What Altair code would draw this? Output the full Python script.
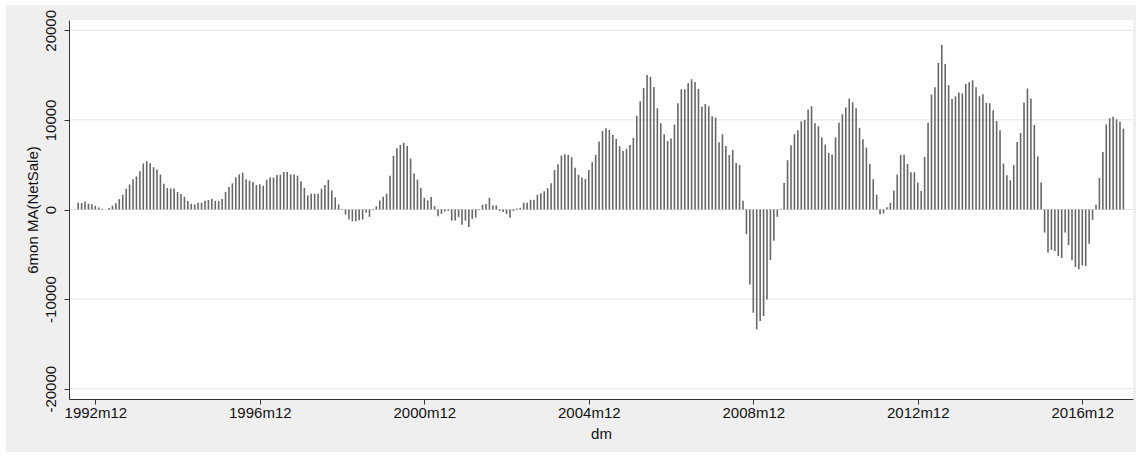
import altair as alt
import pandas as pd

# Monthly series, first month 1992m7, last 2017m12
start_month = "1992m7"
tick_months = [5, 53, 101, 149, 197, 245, 293]
tick_labels = ["1992m12", "1996m12", "2000m12", "2004m12", "2008m12", "2012m12", "2016m12"]
y_ticks = [-20000, -10000, 0, 10000, 20000]

netsale_ma = [
    750, 720, 880, 650, 580, 410, 220, 75, 10, 170,
    430, 700, 1160, 1650, 2320, 2800, 3370, 3700, 4270, 5130,
    5390, 5170, 4720, 4460, 3900, 2880, 2400, 2340, 2340, 1950,
    1720, 1420, 940, 640, 560, 750, 750, 970, 1050, 1200,
    970, 940, 1160, 1950, 2510, 2920, 3560, 3930, 4120, 3370,
    3220, 3070, 2730, 2810, 2660, 3300, 3560, 3560, 3860, 3880,
    4190, 4190, 3900, 3900, 3780, 3150, 2400, 1570, 1760, 1760,
    1760, 2320, 2730, 3300, 2130, 1350, 560, 50, -560, -1120,
    -1310, -1310, -1200, -1120, -370, -820, -75, 370, 1010, 1420,
    1760, 3780, 5990, 6850, 7200, 7450, 7100, 5700, 4010, 3330,
    2400, 1310, 1010, 1390, 375, -750, -490, -220, -150, -1240,
    -1240, -860, -1690, -1240, -1950, -1050, -900, -70, 520, 600,
    1310, 450, 450, -170, -280, -510, -890, -150, 110, 190,
    740, 740, 1080, 1080, 1640, 1820, 2040, 2380, 2940, 4420,
    5060, 6020, 6170, 6100, 5840, 4650, 3870, 3570, 3420, 4420,
    5280, 6100, 7580, 8770, 9070, 8880, 8330, 7880, 7060, 6540,
    6770, 7210, 7990, 10450, 12080, 13570, 15020, 14800, 13680, 11300,
    9630, 8400, 7660, 7920, 9480, 11860, 13420, 13420, 14090, 14540,
    14240, 13460, 11490, 11780, 11520, 10410, 10260, 7510, 8400, 7080,
    6080, 6650, 5200, 4980, 970, -2750, -8360, -11520, -13380, -12450,
    -11900, -10040, -5650, -3490, -820, 70, 2970, 5500, 7170, 8400,
    8850, 9850, 10000, 11150, 11520, 9630, 9290, 8030, 7250, 6320,
    6150, 8050, 9670, 10630, 11380, 12380, 11970, 11300, 9110, 7840,
    6910, 5090, 3380, 1640, -520, -450, 260, 740, 2120, 3900,
    6100, 6100, 5090, 4160, 4160, 3010, 2080, 5870, 9680, 12830,
    13640, 16360, 18360, 16250, 13870, 12340, 12640, 13050, 12940, 14010,
    14200, 14420, 13640, 12640, 12860, 11900, 11860, 11080, 9890, 8850,
    5130, 3830, 3260, 4950, 7520, 8540, 11940, 13510, 12390, 9440,
    5930, 3020, -2570, -4810, -4510, -4630, -5190, -5410, -2570, -3960,
    -5670, -6420, -6680, -6230, -6310, -3810, -1160, 520, 3510, 6420,
    9510, 10190, 10340, 10070, 9780, 9030,
]

df = pd.DataFrame({"m": list(range(len(netsale_ma))), "v": netsale_ma})

W, H = 1064, 379
FONT = "Liberation Sans"
x_scale = alt.Scale(domain=[-2.68, 307.8], nice=False, zero=False)
y_scale = alt.Scale(domain=[-21150, 21150], nice=False, zero=False)

y_axis = alt.Axis(
    values=y_ticks, labelExpr="'' + datum.value", title="6mon MA(NetSale)", grid=False,
    labelAngle=-90, labelAlign="center", labelBaseline="alphabetic", labelPadding=9,
    labelOverlap=False, labelFlush=False,
    tickSize=5, tickColor="#333333", domainColor="#333333",
    labelFont=FONT, labelFontSize=15, labelColor="#111111",
    titleFont=FONT, titleFontSize=15, titleFontWeight="normal", titleColor="#111111",
    titleAngle=270, titleX=-32, titleY=H / 2, titleAlign="center",
    titleBaseline="alphabetic",
    zindex=1,
)

one = pd.DataFrame({"a": [0]})
panel = alt.Chart(one).mark_rect(color="#efefef").encode(
    x=alt.value(-63), x2=alt.value(1067), y=alt.value(-15), y2=alt.value(432)
)
plotbg = alt.Chart(one).mark_rect(color="white").encode(
    x=alt.value(0), x2=alt.value(W), y=alt.value(0), y2=alt.value(H)
)
grid = alt.Chart(pd.DataFrame({"v": y_ticks})).mark_rule(
    color="#e3e3e3", strokeWidth=1
).encode(y=alt.Y("v:Q", scale=y_scale, axis=y_axis))

label_expr = "[" + ",".join("'%s'" % t for t in tick_labels) + "][round((datum.value-5)/48)]"

bars = alt.Chart(df).mark_rule(color="#676767", strokeWidth=1.6).encode(
    x=alt.X(
        "m:Q",
        scale=x_scale,
        axis=alt.Axis(
            values=tick_months, labelExpr=label_expr, title="dm", grid=False,
            labelAngle=0, labelAlign="center", labelBaseline="top", labelPadding=1,
            labelFlush=False, labelOverlap=False,
            tickSize=5, tickColor="#333333", domainColor="#333333",
            labelFont=FONT, labelFontSize=15, labelColor="#111111",
            titleFont=FONT, titleFontSize=15, titleFontWeight="normal", titleColor="#111111",
            titleX=W / 2, titleY=39, titleAlign="center", titleBaseline="alphabetic",
            zindex=1,
        ),
    ),
    y=alt.Y("v:Q", scale=y_scale, axis=y_axis),
    y2=alt.datum(0),
)

chart = alt.layer(panel, plotbg, grid, bars).properties(
    width=W, height=H,
    autosize=alt.AutoSizeParams(type="none"),
    padding={"left": 69, "top": 20, "right": 9, "bottom": 59},
    background="white",
).configure_view(stroke=None)

chart.save("out.html", embed_options={"renderer": "svg", "actions": False})
